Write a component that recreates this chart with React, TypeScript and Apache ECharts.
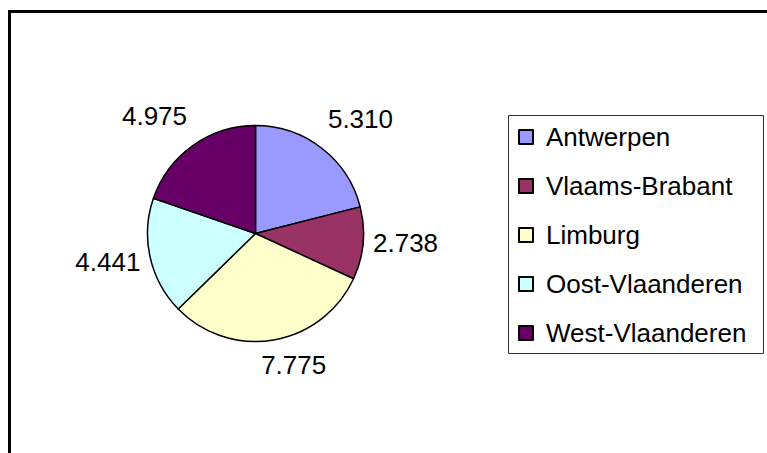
import React, { useEffect, useRef } from "react";
import * as echarts from "echarts";

const categories = ["Antwerpen", "Vlaams-Brabant", "Limburg", "Oost-Vlaanderen", "West-Vlaanderen"];
const values = [5310, 2738, 7775, 4441, 4975];
const colors = ["#9999FF", "#993366", "#FFFFCC", "#CCFFFF", "#660066"];

const FONT = '"Liberation Sans", Arial, sans-serif';
const CX = 255.5;
const CY = 233.5;
const R = 108;

function fmt(v: number): string {
  return String(v).replace(/\B(?=(\d{3})+(?!\d))/g, ".");
}

function clamp(v: number): number {
  return Math.max(-1, Math.min(1, v));
}

export default function App() {
  const ref = useRef<HTMLDivElement>(null);
  useEffect(() => {
    if (!ref.current) return;
    const chart = echarts.init(ref.current, undefined, { renderer: "svg" });
    const total = values.reduce((a, b) => a + b, 0);
    const mids: number[] = [];
    let acc = 0;
    values.forEach((v) => {
      mids.push(((acc + v / 2) / total) * Math.PI * 2);
      acc += v;
    });
    chart.setOption({
      animation: false,
      backgroundColor: "#fff",
      textStyle: { fontFamily: FONT },
      graphic: [
        {
          type: "rect",
          shape: { x: 9.5, y: 11.5, width: 800, height: 500 },
          style: { fill: "none", stroke: "#000", lineWidth: 3 },
          silent: true,
        },
        {
          type: "rect",
          shape: { x: 508.5, y: 115.5, width: 255, height: 238 },
          style: { fill: "none", stroke: "#333", lineWidth: 1 },
          silent: true,
        },
      ],
      legend: {
        orient: "vertical",
        left: 518,
        top: 124,
        padding: 0,
        itemGap: 23,
        itemWidth: 14,
        itemHeight: 14,
        icon: "rect",
        data: categories,
        selectedMode: false,
        itemStyle: { borderColor: "#000", borderWidth: 2 },
        textStyle: {
          fontFamily: FONT,
          fontSize: 26,
          color: "#000",
          padding: [0, 0, 0, 8],
        },
      },
      series: [
        {
          type: "pie",
          center: [CX, CY],
          radius: R,
          startAngle: 90,
          clockwise: true,
          avoidLabelOverlap: false,
          silent: true,
          emphasis: { disabled: true },
          itemStyle: { borderColor: "#000", borderWidth: 1.5 },
          label: {
            show: true,
            position: "outside",
            fontFamily: FONT,
            fontSize: 26,
            color: "#000",
            formatter: (p: any) => fmt(p.value),
          },
          labelLine: { show: false },
          labelLayout: (params: any) => {
            const i = params.dataIndex;
            const a = mids[i];
            const ux = Math.sin(a);
            const uy = -Math.cos(a);
            const w = params.labelRect.width;
            const J = R + 10;
            return {
              x: CX + J * ux + clamp(3.3 * ux) * (w / 2),
              y: CY + J * uy + clamp(1.5 * uy) * 18.3 - 3.4,
              align: "center",
              verticalAlign: "middle",
            };
          },
          data: categories.map((c, i) => ({
            name: c,
            value: values[i],
            itemStyle: { color: colors[i] },
          })),
        },
      ],
    });
    return () => chart.dispose();
  }, []);
  return (
    <div
      ref={ref}
      style={{ position: "absolute", left: 0, top: 0, width: 767, height: 453 }}
    />
  );
}
